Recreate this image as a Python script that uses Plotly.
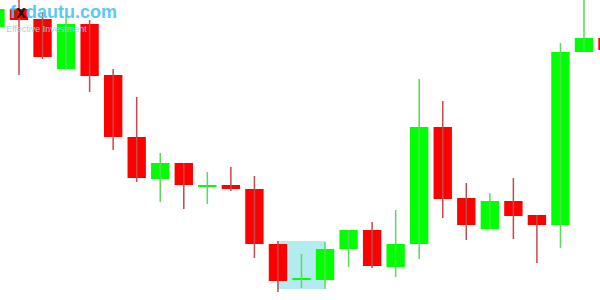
import plotly.graph_objects as go

# Candle data (index position, open, high, low, close)
idx    = list(range(27))
opens  = [273, 291, 281, 231, 276, 225, 163, 121, 137, 113, 115, 111, 56, 20, 20, 51, 70, 33, 56, 173, 102, 71, 99, 85, 75, 248, 262]
highs  = [295, 305, 288, 285, 280, 231, 203, 147, 137, 128, 133, 124, 59, 46, 58, 70, 78, 90, 221, 199, 117, 107, 122, 85, 257, 310, 265]
lows   = [268, 225, 241, 230, 208, 150, 118, 98, 91, 96, 109, 42, 8, 12, 11, 33, 32, 23, 41, 82, 60, 71, 61, 37, 52, 248, 245]
closes = [291, 280, 243, 276, 224, 163, 122, 137, 115, 115, 111, 56, 19, 21, 51, 70, 34, 56, 173, 101, 75, 99, 84, 75, 248, 262, 250]

highlight_idx = [12, 14]      # highlighted pattern (candle index span)
highlight_price = [11, 59]    # price span of highlight

UP = "#00ff00"
DOWN = "#ff0000"
UP_WICK = "#55dd55"
DOWN_WICK = "#c24a4a"

fig = go.Figure()

# wicks
for up in (True, False):
    xs, ys = [], []
    for i, o, h, l, c in zip(idx, opens, highs, lows, closes):
        if (c >= o) == up:
            xs += [i, i, None]
            ys += [l, h, None]
    fig.add_trace(go.Scatter(x=xs, y=ys, mode="lines",
                             line=dict(color=UP_WICK if up else DOWN_WICK, width=1.5),
                             hoverinfo="skip", showlegend=False))

# bodies
for up in (True, False):
    bx, bbase, bh = [], [], []
    for i, o, c in zip(idx, opens, closes):
        if (c >= o) == up:
            lo = min(o, c)
            bx.append(i)
            bbase.append(lo)
            bh.append(max(abs(c - o), 1.5))
    fig.add_trace(go.Bar(x=bx, y=bh, base=bbase, width=0.78,
                         marker=dict(color=UP if up else DOWN, line=dict(width=0)),
                         showlegend=False))

fig.add_shape(type="rect", layer="below",
              x0=highlight_idx[0], x1=highlight_idx[1],
              y0=highlight_price[0], y1=highlight_price[1],
              fillcolor="#b2ecef", line=dict(width=0))

fig.add_annotation(xref="paper", yref="paper", x=8/600, y=1 - 0/300,
                   xanchor="left", yanchor="top", showarrow=False,
                   text="<b><span style='color:#4cc3ee'>f</span><span style='color:#111111'>x</span>dautu.com</b>",
                   font=dict(family="Liberation Sans, Arial", size=18, color="#4cc3ee"),
                   opacity=0.9)
fig.add_annotation(xref="paper", yref="paper", x=4/600, y=1 - 22/300,
                   xanchor="left", yanchor="top", showarrow=False,
                   text="Effective Investment",
                   font=dict(family="Liberation Sans, Arial", size=9, color="#9fd2ee"))

fig.update_layout(width=600, height=300, margin=dict(l=0, r=0, t=0, b=0),
                  plot_bgcolor="white", paper_bgcolor="white",
                  barmode="overlay",
                  xaxis=dict(range=[0.193, 25.68], visible=False, fixedrange=True),
                  yaxis=dict(range=[0, 300], visible=False, fixedrange=True))

fig.write_html("out.html")
